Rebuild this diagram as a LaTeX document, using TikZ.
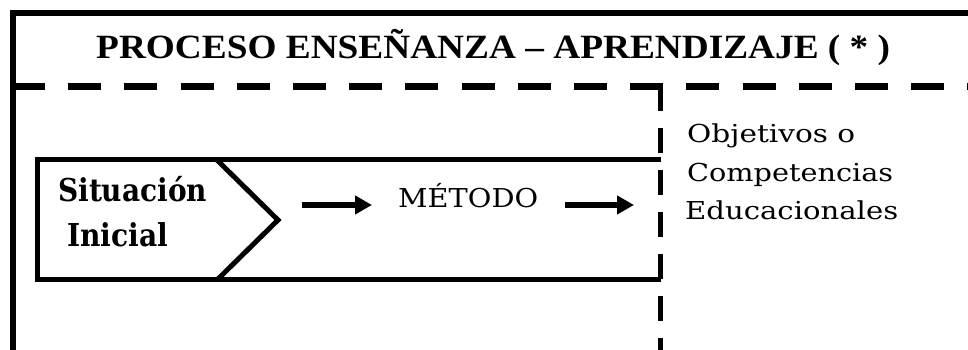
\documentclass[tikz,border=0pt]{standalone}
\usepackage{fontspec}
\usepackage{graphicx}
\usetikzlibrary{arrows.meta}
\setmainfont{Liberation Serif}
\newfontfamily\djserif{DejaVu Serif}
\newcommand\fitw[2]{\resizebox{#1}{\height}{#2}}
\tikzset{
  txt/.style={inner sep=0pt, anchor=base west},
  frameline/.style={line width=6pt, line join=miter},
  hdash/.style={line width=7pt, dash pattern=on 33pt off 23.2pt},
  vdash/.style={line width=5pt, dash pattern=on 25pt off 17pt},
  boxline/.style={line width=5pt, line join=miter},
  flow/.style={line width=6.5pt, -{Triangle[length=17pt,width=18pt]}}
}
\begin{document}
\begin{tikzpicture}[x=1pt,y=1pt]
\useasboundingbox (0,0) rectangle (968,350);
\clip (0,0) rectangle (968,350);
% outer frame
\draw[frameline] (13,-10) -- (13,336.5) -- (980,336.5);
% dashed separators
\draw[hdash] (12,263.5) -- (990,263.5);
\draw[vdash] (660.5,264) -- (660.5,-20);
% inner box
\draw[boxline] (660.5,190) -- (37.5,190) -- (37.5,70) -- (660.5,70);
\draw[boxline] (217,190) -- (278,130) -- (217,70);
% texts
\node[txt] (title) at (96,291) {\fitw{794pt}{\fontsize{34}{36}\selectfont\bfseries PROCESO ENSEÑANZA – APRENDIZAJE ( * )}};
\node[txt] (sit) at (58,148) {\fitw{149pt}{\djserif\fontsize{31.5}{33}\selectfont\bfseries Situación}};
\node[txt] (ini) at (67,103) {\fitw{101pt}{\djserif\fontsize{31.5}{33}\selectfont\bfseries Inicial}};
\node[txt] (met) at (398,142) {\fitw{140pt}{\djserif\fontsize{26}{28}\selectfont MÉTODO}};
\node[txt] (obj1) at (687,207) {\fitw{168pt}{\djserif\fontsize{24.7}{26}\selectfont Objetivos o}};
\node[txt] (obj2) at (687,168) {\fitw{206pt}{\djserif\fontsize{24.7}{26}\selectfont Competencias}};
\node[txt] (obj3) at (685,130) {\fitw{213pt}{\djserif\fontsize{24.7}{26}\selectfont Educacionales}};
% arrows
\coordinate (a1s) at (302,145);
\coordinate (a1e) at (372,145);
\coordinate (a2s) at (565,145);
\coordinate (a2e) at (634,145);
\draw[flow] (a1s) -- (a1e);
\draw[flow] (a2s) -- (a2e);
\end{tikzpicture}
\end{document}
